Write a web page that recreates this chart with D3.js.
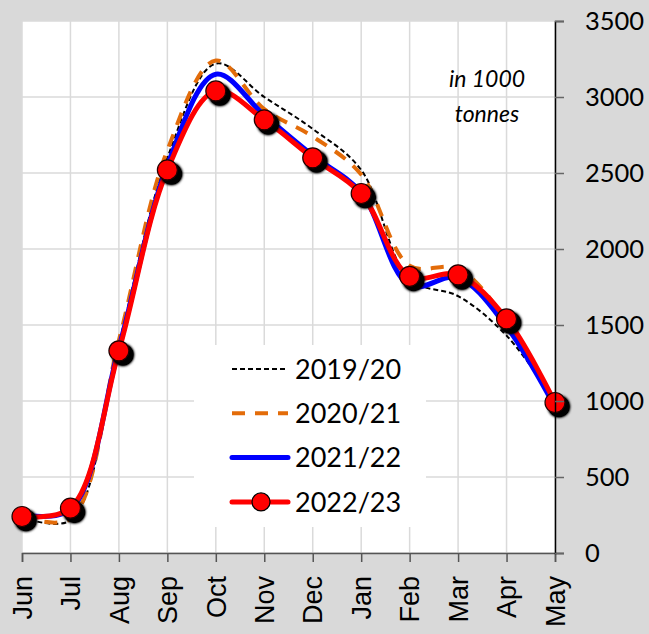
<!DOCTYPE html>
<html><head><meta charset="utf-8">
<script src="https://cdn.jsdelivr.net/npm/d3@7"></script>
<style>
html,body{margin:0;padding:0;background:#d9d9d9;}
svg{display:block;}
text{font-family:Lato, "Open Sans", sans-serif;fill:#000;}
</style></head>
<body>
<svg id="chart" width="649" height="634"></svg>
<script>
const months = ["Jun","Jul","Aug","Sep","Oct","Nov","Dec","Jan","Feb","Mar","Apr","May"];
const yTicks = [0,500,1000,1500,2000,2500,3000,3500];
const seriesNames = ["2019/20","2020/21","2021/22","2022/23"];
const s1920 = [235, 215, 1380, 2600, 3220, 3000, 2790, 2520, 1800, 1690, 1430, 1000];
const s2021 = [240, 225, 1400, 2650, 3240, 2920, 2740, 2490, 1890, 1870, 1530, 990];
const s2122 = [250, 285, 1350, 2550, 3150, 2880, 2615, 2370, 1760, 1810, 1490, 960];
const s2223 = [240, 295, 1330, 2520, 3040, 2850, 2600, 2365, 1820, 1830, 1540, 990];
const unitLabel = ["in 1000","tonnes"];

const svg = d3.select("#chart");
const L = 22, R = 555, T = 21, B = 553;

const x = d3.scalePoint().domain(months).range([L, R]);
const y = d3.scaleLinear().domain([0, 3500]).range([B, T]);

svg.append("rect").attr("width",649).attr("height",634).attr("fill","#d9d9d9");
svg.append("rect").attr("x",L).attr("y",T).attr("width",R-L).attr("height",B-T).attr("fill","#fff");

// grid
const grid = svg.append("g");
grid.selectAll("line.v").data(months).join("line")
  .attr("x1",d=>x(d)).attr("x2",d=>x(d)).attr("y1",T).attr("y2",B)
  .attr("stroke","#dadada").attr("stroke-width",1.5);
grid.selectAll("line.h").data(yTicks).join("line")
  .attr("x1",L).attr("x2",R).attr("y1",d=>y(d)).attr("y2",d=>y(d))
  .attr("stroke","#dadada").attr("stroke-width",1.5);

// defs: shadow
const defs = svg.append("defs");
const f = defs.append("filter").attr("id","sh").attr("x","-60%").attr("y","-60%").attr("width","220%").attr("height","220%");
f.append("feGaussianBlur").attr("in","SourceAlpha").attr("stdDeviation",1.8).attr("result","b");
f.append("feOffset").attr("in","b").attr("dx",3.5).attr("dy",3.5).attr("result","o");
f.append("feComponentTransfer").attr("in","o").attr("result","o2").append("feFuncA").attr("type","linear").attr("slope",2);
const m = f.append("feMerge"); m.append("feMergeNode").attr("in","o2"); m.append("feMergeNode").attr("in","SourceGraphic");

const line = d3.line().x((d,i)=>x(months[i])).y(d=>y(d)).curve(d3.curveCatmullRom.alpha(0.5));

const styles = [
  {data:s1920, color:"#000", w:2, dash:"5,3"},
  {data:s2021, color:"#e36c0a", w:4, dash:"13,10"},
  {data:s2122, color:"#0000ff", w:5, dash:null},
  {data:s2223, color:"#ff0000", w:5, dash:null}
];
styles.forEach(s=>{
  svg.append("path").attr("d",line(s.data)).attr("fill","none")
    .attr("stroke",s.color).attr("stroke-width",s.w)
    .attr("stroke-dasharray",s.dash).attr("stroke-linecap", s.dash? "butt":"round");
});
svg.append("g").selectAll("circle").data(s2223).join("circle")
  .attr("cx",(d,i)=>x(months[i])).attr("cy",d=>y(d)).attr("r",10)
  .attr("fill","#ff0000").attr("stroke","#200").attr("stroke-width",1.2)
  .attr("filter","url(#sh)");

// axes
const xAxis = svg.append("g").attr("transform",`translate(0,${B})`)
  .call(d3.axisBottom(x).tickSize(9).tickFormat(""));
xAxis.select(".domain").attr("stroke","#555").attr("stroke-width",1.5);
xAxis.selectAll(".tick line").attr("stroke","#555").attr("stroke-width",1.5);
svg.append("g").selectAll("text").data(months).join("text")
  .attr("transform",d=>`translate(${x(d)},576) rotate(-90)`)
  .attr("text-anchor","end").attr("dy","0.36em")
  .style("font-family","'Liberation Sans', Arial, sans-serif")
  .style("font-size","27px").text(d=>d);

const yAxis = svg.append("g").attr("transform",`translate(${R},0)`)
  .call(d3.axisRight(y).tickValues(yTicks).tickSize(9).tickPadding(21).tickFormat(d3.format("d")));
yAxis.select(".domain").attr("stroke","#000").attr("stroke-width",1.5);
yAxis.selectAll(".tick line").attr("stroke","#666").attr("stroke-width",1.5);
yAxis.selectAll(".tick text").style("font-size","25.5px").style("font-family","Lato, sans-serif").attr("fill","#000");

// unit label
svg.append("g").selectAll("text").data(unitLabel).join("text")
  .attr("x",487).attr("y",(d,i)=>87+i*35).attr("text-anchor","middle")
  .style("font-size","23px").style("font-style","italic").text(d=>d);

// legend
const lg = svg.append("g");
lg.append("rect").attr("x",194).attr("y",345).attr("width",232).attr("height",182).attr("fill","#fff");
styles.forEach((s,i)=>{
  const cy = 369 + i*44.3;
  lg.append("line").attr("x1",232).attr("x2",288).attr("y1",cy).attr("y2",cy)
    .attr("stroke",s.color).attr("stroke-width",s.w).attr("stroke-dasharray",s.dash)
    .attr("stroke-linecap", s.dash? "butt":"round");
  if(i===3) lg.append("circle").attr("cx",261).attr("cy",cy).attr("r",9)
    .attr("fill","#ff0000").attr("stroke","#000").attr("stroke-width",1.2);
  lg.append("text").attr("x",295).attr("y",cy).attr("dy","0.36em")
    .style("font-size","27px").text(seriesNames[i]);
});
</script>
</body></html>
